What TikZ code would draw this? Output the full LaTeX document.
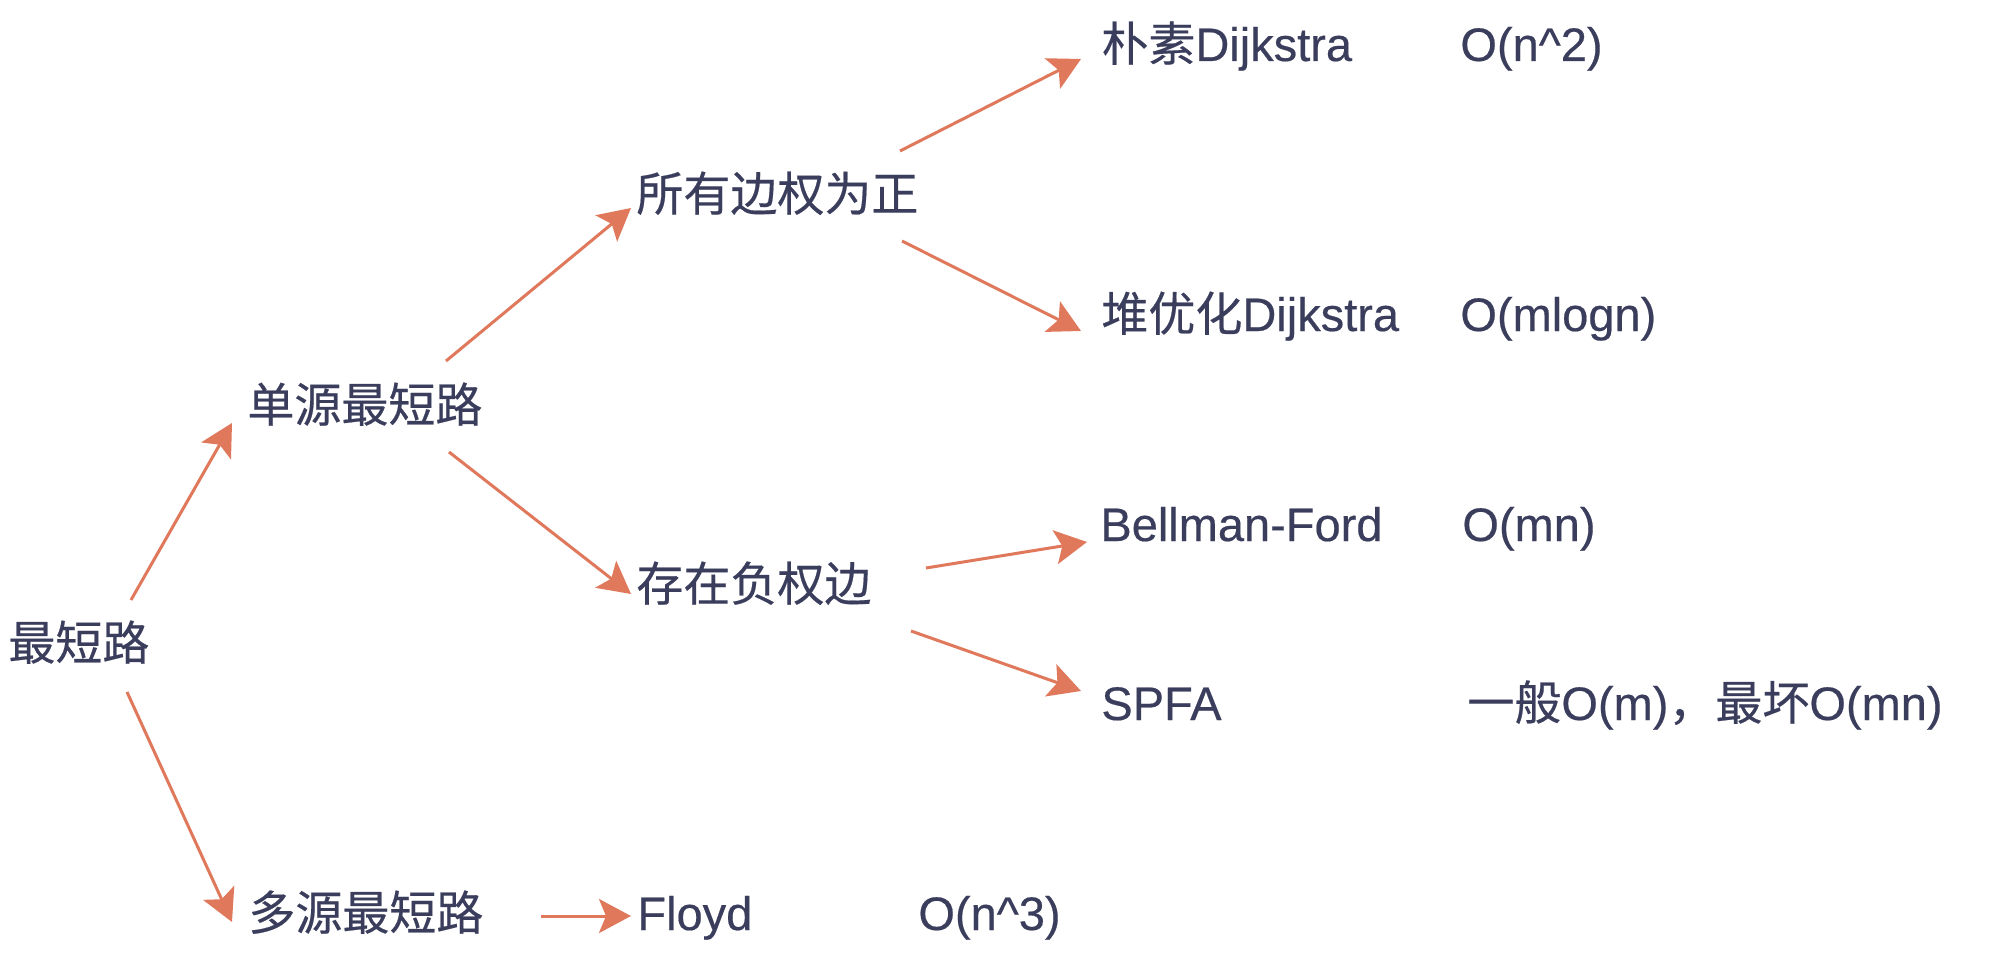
\documentclass[tikz,border=0pt]{standalone}
\usepackage{fontspec}
\setmainfont{Liberation Sans}[FakeBold=0.4]
\newfontfamily\cjk{Noto Sans CJK SC}[FakeBold=0.4]
\usetikzlibrary{arrows.meta}
\definecolor{ink}{HTML}{3A3D5C}
\definecolor{coral}{HTML}{E0785C}

\begin{document}
\begin{tikzpicture}[
    x=0.5pt,y=-0.5pt,
    item/.style={anchor=base west,inner sep=0pt,text=ink,font=\fontsize{23.5}{28}\selectfont},
    arr/.style={-{Stealth[length=16pt,width=17pt,inset=3.5pt]},line width=1.5pt,draw=coral}
]
    \useasboundingbox[fill=white] (0,0) rectangle (1998,963);

    % tree of problems
    \node[item] (root) at (8,660) {\cjk 最短路};
    \node[item] (single) at (247,422) {\cjk 单源最短路};
    \node[item] (multi) at (248,930) {\cjk 多源最短路};
    \node[item] (pos) at (636,211) {\cjk 所有边权为正};
    \node[item] (neg) at (636,601) {\cjk 存在负权边};

    % algorithms and their cost
    \node[item] (floyd) at (637,930) {Floyd};
    \node[item] (floydcost) at (918,930) {O(n\textasciicircum3)};
    \node[item] (naive) at (1101,61) {{\cjk 朴素}Dijkstra};
    \node[item] (naivecost) at (1460,61) {O(n\textasciicircum2)};
    \node[item] (heap) at (1101,331) {{\cjk 堆优化}Dijkstra};
    \node[item] (heapcost) at (1460,331) {O(mlogn)};
    \node[item] (bf) at (1100,541) {Bellman-Ford};
    \node[item] (bfcost) at (1462,541) {O(mn)};
    \node[item] (spfa) at (1101,720) {SPFA};
    \node[item] (spfacost) at (1467,720) {{\cjk 一般}O(m){\cjk ，最坏}O(mn)};

    \draw[arr] ([shift={(123,-60)}]root.base west) -- ([shift={(-15,1)}]single.base west);
    \draw[arr] ([shift={(119,32)}]root.base west) -- ([shift={(-16,-8)}]multi.base west);
    \draw[arr] ([shift={(199,-61)}]single.base west) -- ([shift={(-5,-3)}]pos.base west);
    \draw[arr] ([shift={(202,30)}]single.base west) -- ([shift={(-5,-7)}]neg.base west);
    \draw[arr] ([shift={(264,-60)}]pos.base west) -- ([shift={(-20,-2)}]naive.base west);
    \draw[arr] ([shift={(266,30)}]pos.base west) -- ([shift={(-20,0)}]heap.base west);
    \draw[arr] ([shift={(290,-33)}]neg.base west) -- ([shift={(-13,1)}]bf.base west);
    \draw[arr] ([shift={(275,30)}]neg.base west) -- ([shift={(-20,-29)}]spfa.base west);
    \draw[arr] ([shift={(293,-14)}]multi.base west) -- ([shift={(-6,-14)}]floyd.base west);
\end{tikzpicture}
\end{document}
